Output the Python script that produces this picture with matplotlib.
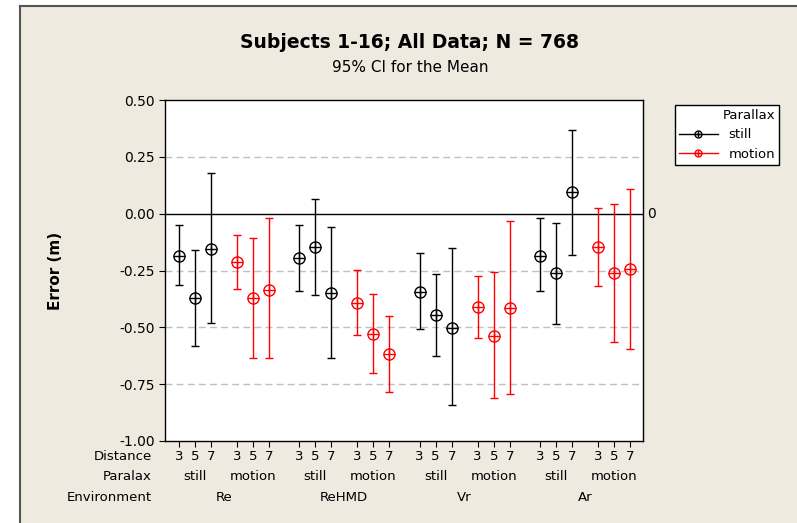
import matplotlib
matplotlib.use('Agg')
import matplotlib.pyplot as plt
from matplotlib.lines import Line2D
from matplotlib.patches import Rectangle

environments = ['Re', 'ReHMD', 'Vr', 'Ar']
parallax = ['still', 'motion']
distances = ['3', '5', '7']

# means and 95% CI (lower, upper), order: env -> parallax -> distance
means = [-0.186, -0.373, -0.156, -0.213, -0.373, -0.334,
         -0.194, -0.146, -0.347, -0.391, -0.530, -0.618,
         -0.344, -0.444, -0.502, -0.410, -0.536, -0.414,
         -0.186, -0.262, 0.095, -0.146, -0.262, -0.243]
lower = [-0.315, -0.583, -0.480, -0.332, -0.634, -0.634,
         -0.342, -0.359, -0.633, -0.535, -0.699, -0.784,
         -0.508, -0.626, -0.841, -0.545, -0.810, -0.794,
         -0.341, -0.485, -0.181, -0.320, -0.565, -0.597]
upper = [-0.048, -0.161, 0.178, -0.095, -0.105, -0.020,
         -0.048, 0.065, -0.058, -0.246, -0.353, -0.450,
         -0.175, -0.266, -0.149, -0.272, -0.257, -0.032,
         -0.020, -0.042, 0.367, 0.023, 0.043, 0.108]
colors = {'still': 'black', 'motion': 'red'}

bg = '#EEEADF'
W, H = 797, 523
fig = plt.figure(figsize=(7.97, 5.23), dpi=100)
fig.patch.set_facecolor(bg)
# white margin on the left and top, dark border line on those two sides
fig.patches.append(Rectangle((0, 0), 20/W, 1, transform=fig.transFigure,
                             fc='white', ec='none', zorder=-5))
fig.patches.append(Rectangle((0, 1 - 6/H), 1, 6/H, transform=fig.transFigure,
                             fc='white', ec='none', zorder=-5))
fig.lines.append(Line2D([20/W, 20/W], [0, 1 - 6/H], transform=fig.transFigure,
                        color='#555555', lw=1.5, zorder=-4))
fig.lines.append(Line2D([20/W, 1], [1 - 6/H, 1 - 6/H], transform=fig.transFigure,
                        color='#555555', lw=1.5, zorder=-4))

ax = fig.add_axes([165/W, 82/H, 478/W, 341/H])

xpos = []
cols = []
for e in range(len(environments)):
    for p in range(len(parallax)):
        for d in range(len(distances)):
            xpos.append(e*7.52 + p*3.63 + d)
            cols.append(colors[parallax[p]])

for i in range(len(means)):
    c = cols[i]
    ax.errorbar(xpos[i], means[i], yerr=[[means[i]-lower[i]], [upper[i]-means[i]]],
                fmt='none', ecolor=c, elinewidth=1.0, capsize=3, capthick=1.0)
    ax.plot(xpos[i], means[i], 'o', mfc='none', mec=c, ms=8, mew=1.0)
    ax.plot(xpos[i], means[i], '+', color=c, ms=8, mew=1.0)

for g in [0.25, -0.25, -0.5, -0.75]:
    ax.axhline(g, color='#C0C0C0', ls=(0, (5, 3)), lw=1.0, zorder=0)
ax.axhline(0, color='black', lw=1.0, zorder=0)

ax.set_xlim(-0.875, 29.0)
ax.set_ylim(-1.0, 0.5)
ax.set_yticks([0.5, 0.25, 0.0, -0.25, -0.5, -0.75, -1.0])
ax.set_yticklabels(['0.50', '0.25', '0.00', '-0.25', '-0.50', '-0.75', '-1.00'], fontsize=10)
ax.set_xticks(xpos)
ax.set_xticklabels([])
ax.tick_params(axis='both', direction='out', length=4, width=0.8)
ax.set_ylabel('Error (m)', fontsize=11, fontweight='bold', labelpad=40)
for s in ax.spines.values():
    s.set_linewidth(1.0)

ax.text(1.008, 0.0, '0', transform=ax.get_yaxis_transform(), va='center', ha='left', fontsize=10)

# category rows below axis
tr = ax.get_xaxis_transform()
row_y = [-0.045, -0.105, -0.165]
for i in range(len(xpos)):
    ax.text(xpos[i], row_y[0], distances[i % 3], transform=tr, ha='center', va='center',
            fontsize=9.5, clip_on=False)
for e in range(len(environments)):
    for p in range(len(parallax)):
        ax.text(e*7.52 + p*3.63 + 1, row_y[1], parallax[p], transform=tr, ha='center',
                va='center', fontsize=9.5, clip_on=False)
    ax.text(e*7.52 + 2.8, row_y[2], environments[e], transform=tr, ha='center',
            va='center', fontsize=9.5, clip_on=False)
for lab, yy in zip(['Distance', 'Paralax', 'Environment'], row_y):
    ax.text(-0.027, yy, lab, transform=ax.transAxes, fontsize=9.5, ha='right', va='center',
            clip_on=False)

fig.text(410/W, 1 - 43/H, 'Subjects 1-16; All Data; N = 768', ha='center', va='center',
         fontsize=13.5, fontweight='bold')
fig.text(410/W, 1 - 67/H, '95% CI for the Mean', ha='center', va='center', fontsize=11)

handles = []
for p in parallax:
    c = colors[p]
    h1 = Line2D([0], [0], color=c, lw=1.0, marker='o', mfc='none', mec=c, ms=5, mew=1.0)
    h2 = Line2D([0], [0], color=c, lw=0, marker='+', ms=5, mew=1.0)
    handles.append((h1, h2))
leg = fig.legend(handles, parallax, title='Parallax', loc='upper left',
                 bbox_to_anchor=(668/W, 1 - 98/H), fontsize=9.5, title_fontsize=9.5,
                 frameon=True, fancybox=False, edgecolor='black', facecolor='white',
                 framealpha=1, borderpad=0.3, handlelength=3.0, alignment='right')
leg.get_frame().set_linewidth(1.0)

fig.savefig('out.png', dpi=100, facecolor=fig.get_facecolor())
